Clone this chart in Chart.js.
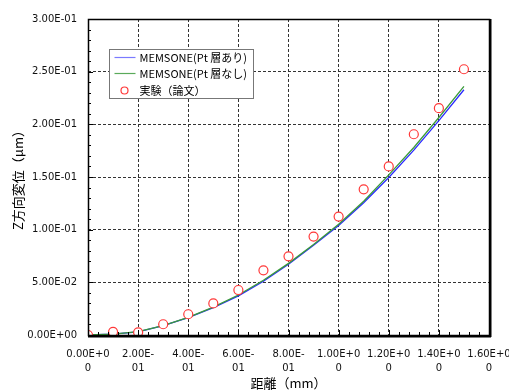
<!DOCTYPE html>
<html>
<head>
<meta charset="utf-8">
<script src="https://cdn.jsdelivr.net/npm/chart.js@4.4.0/dist/chart.umd.min.js"></script>
<style>
body { margin: 0; background: #fff; }
</style>
</head>
<body>
<canvas id="myChart" width="509" height="391"></canvas>
<script>
// values
const distances = [0, 0.1, 0.2, 0.3, 0.4, 0.5, 0.6, 0.7, 0.8, 0.9, 1.0, 1.1, 1.2, 1.3, 1.4, 1.5];
const withPt    = [0, 0.0008, 0.003, 0.0088, 0.0165, 0.026, 0.0372, 0.051, 0.0672, 0.0852, 0.104, 0.1255, 0.1495, 0.1755, 0.2035, 0.2328];
const withoutPt = [0, 0.0009, 0.0032, 0.009, 0.0168, 0.0265, 0.038, 0.052, 0.068, 0.086, 0.1052, 0.127, 0.152, 0.178, 0.2065, 0.236];
const expDistances = [0, 0.1, 0.2, 0.3, 0.4, 0.5, 0.6, 0.7, 0.8, 0.9, 1.0, 1.1, 1.2, 1.3, 1.4, 1.5];
const expValues    = [0, 0.003, 0.0025, 0.0102, 0.0197, 0.030, 0.0427, 0.0614, 0.0747, 0.0934, 0.1124, 0.1383, 0.160, 0.1906, 0.2153, 0.2523];
const seriesLabels = ['MEMSONE(Pt 層あり)', 'MEMSONE(Pt 層なし)', '実験（論文）'];

const xTicks = [0, 0.2, 0.4, 0.6, 0.8, 1.0, 1.2, 1.4, 1.6];
const xTickLabels = [['0.00E+0', '0'], ['2.00E-', '01'], ['4.00E-', '01'], ['6.00E-', '01'], ['8.00E-', '01'],
                     ['1.00E+0', '0'], ['1.20E+0', '0'], ['1.40E+0', '0'], ['1.60E+0', '0']];
const yTicks = [0, 0.05, 0.1, 0.15, 0.2, 0.25, 0.3];
const yTickLabels = ['0.00E+00', '5.00E-02', '1.00E-01', '1.50E-01', '2.00E-01', '2.50E-01', '3.00E-01'];

const tickFont = { family: 'DejaVu Sans', size: 10 };
const jpFont = 'Noto Sans CJK JP';

function toPoints(xs, ys) {
    return xs.map((x, i) => ({ x: x, y: ys[i] }));
}

// frame, inner tick marks
const frameTicks = {
    id: 'frameTicks',
    afterDraw(chart) {
        const ctx = chart.ctx;
        const a = chart.chartArea;
        const xs = chart.scales.x, ys = chart.scales.y;
        ctx.save();
        ctx.strokeStyle = '#000';
        ctx.lineWidth = 1;
        ctx.beginPath();
        for (let i = 0; i <= 30; i++) {
            const py = Math.round(ys.getPixelForValue(i * 0.01)) + 0.5;
            const len = i % 5 === 0 ? 5 : 3;
            ctx.moveTo(a.left, py);
            ctx.lineTo(a.left + len, py);
        }
        for (let i = 0; i <= 40; i++) {
            const px = Math.round(xs.getPixelForValue(i * 0.04)) + 0.5;
            const len = i % 5 === 0 ? 5 : 3;
            ctx.moveTo(px, a.bottom);
            ctx.lineTo(px, a.bottom - len);
        }
        ctx.stroke();
        ctx.lineWidth = 1.5;
        ctx.strokeRect(Math.round(a.left) + 0.5, Math.round(a.top) + 0.5, Math.round(a.right - a.left), Math.round(a.bottom - a.top));
        ctx.lineWidth = 2;
        ctx.beginPath();
        ctx.moveTo(Math.round(a.right) + 1.5, a.top);
        ctx.lineTo(Math.round(a.right) + 1.5, a.bottom + 2);
        ctx.moveTo(a.left, Math.round(a.bottom) + 1.5);
        ctx.lineTo(a.right + 2, Math.round(a.bottom) + 1.5);
        ctx.stroke();
        ctx.restore();
    }
};

// legend box inside the plot area
const insideLegend = {
    id: 'insideLegend',
    afterDraw(chart) {
        const ctx = chart.ctx;
        const a = chart.chartArea;
        const bx = a.left + 21.5, by = a.top + 30.5, bw = 144, bh = 49;
        ctx.save();
        ctx.fillStyle = '#fff';
        ctx.fillRect(bx, by, bw, bh);
        ctx.strokeStyle = '#777';
        ctx.lineWidth = 1;
        ctx.strokeRect(bx, by, bw, bh);
        ctx.font = '11px "' + jpFont + '"';
        ctx.textBaseline = 'middle';
        const rows = [by + 8, by + 24, by + 41];
        chart.data.datasets.forEach((ds, i) => {
            const ry = rows[i];
            if (ds.showLine === false) {
                ctx.beginPath();
                ctx.arc(bx + 15, ry, 3.5, 0, Math.PI * 2);
                ctx.strokeStyle = ds.pointBorderColor;
                ctx.lineWidth = 1.2;
                ctx.stroke();
            } else {
                ctx.beginPath();
                ctx.moveTo(bx + 5, ry);
                ctx.lineTo(bx + 26, ry);
                ctx.strokeStyle = ds.legendColor;
                ctx.lineWidth = 1.2;
                ctx.stroke();
            }
            ctx.fillStyle = '#000';
            ctx.fillText(ds.label, bx + 30, ry);
        });
        ctx.restore();
    }
};

const ctx = document.getElementById('myChart').getContext('2d');
const myChart = new Chart(ctx, {
    type: 'line',
    data: {
        datasets: [{
            label: seriesLabels[0],
            data: toPoints(distances, withPt),
            borderColor: '#2a2aff',
            legendColor: '#7a7aff',
            borderWidth: 1.3,
            pointRadius: 0,
            fill: false,
            order: 2
        }, {
            label: seriesLabels[1],
            data: toPoints(distances, withoutPt),
            borderColor: '#3a9a3a',
            legendColor: '#5aaa5a',
            borderWidth: 1.3,
            pointRadius: 0,
            fill: false,
            order: 1
        }, {
            label: seriesLabels[2],
            data: toPoints(expDistances, expValues),
            showLine: false,
            pointRadius: 4.5,
            pointBorderWidth: 1.2,
            pointBorderColor: '#ff3838',
            pointBackgroundColor: '#fff',
            order: 0
        }]
    },
    options: {
        responsive: false,
        animation: false,
        layout: { padding: { left: 0, top: 19, right: 20, bottom: 0 } },
        plugins: {
            legend: { display: false },
            tooltip: { enabled: false }
        },
        scales: {
            x: {
                type: 'linear',
                min: 0,
                max: 1.6,
                afterBuildTicks: (scale) => { scale.ticks = xTicks.map(v => ({ value: v })); },
                afterFit: (scale) => { scale.height = 56; scale.paddingLeft = 0; scale.paddingRight = 0; },
                ticks: {
                    autoSkip: false,
                    maxRotation: 0,
                    padding: 13,
                    color: '#111',
                    font: { family: 'DejaVu Sans', size: 10, lineHeight: 1.35 },
                    callback: (value, index) => xTickLabels[index]
                },
                grid: { color: '#333', lineWidth: 1, drawTicks: false },
                border: { display: false, dash: [3, 2] },
                title: {
                    display: true,
                    text: '距離（mm）',
                    color: '#000',
                    font: { family: jpFont, size: 13 },
                    padding: { top: 0, bottom: 0 }
                }
            },
            y: {
                type: 'linear',
                min: 0,
                max: 0.3,
                afterBuildTicks: (scale) => { scale.ticks = yTicks.map(v => ({ value: v })); },
                afterFit: (scale) => { scale.width = 88; scale.paddingTop = 0; scale.paddingBottom = 0; },
                ticks: {
                    autoSkip: false,
                    padding: 11,
                    color: '#111',
                    font: tickFont,
                    callback: (value, index) => yTickLabels[index]
                },
                grid: { color: '#333', lineWidth: 1, drawTicks: false },
                border: { display: false, dash: [3, 2] },
                title: {
                    display: true,
                    text: 'Z方向変位（μm）',
                    color: '#000',
                    font: { family: jpFont, size: 13 },
                    padding: { top: 10, bottom: 0 }
                }
            }
        }
    },
    plugins: [frameTicks, insideLegend]
});
</script>
</body>
</html>
